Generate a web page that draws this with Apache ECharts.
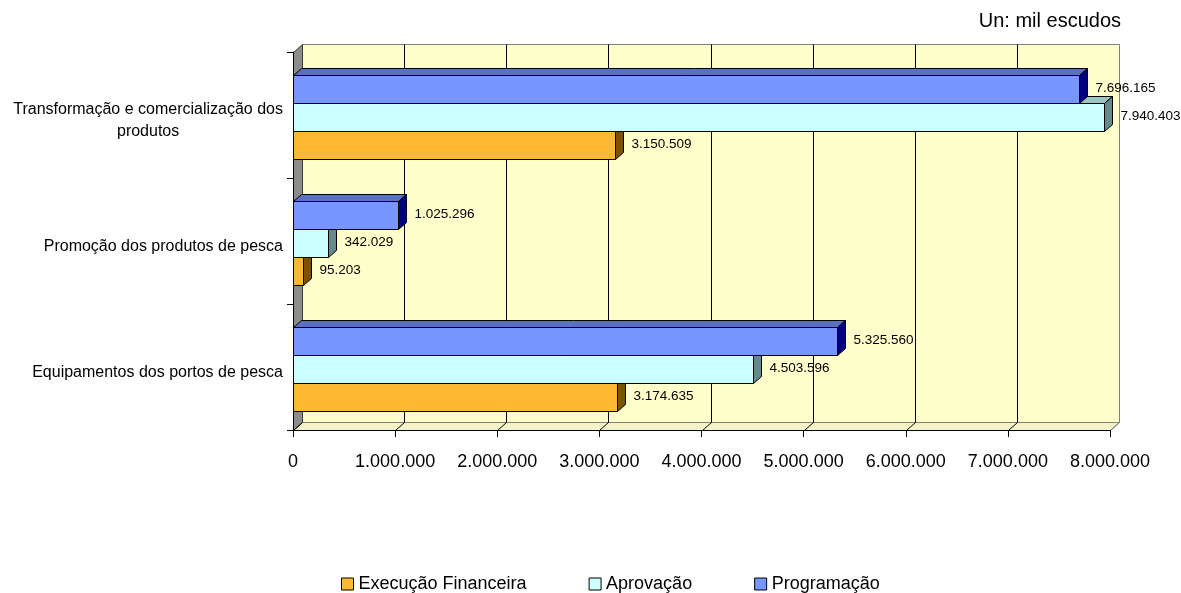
<!DOCTYPE html>
<html>
<head>
<meta charset="utf-8">
<script src="https://cdn.jsdelivr.net/npm/echarts@6/dist/echarts.min.js"></script>
<style>
  html, body { margin: 0; padding: 0; background: #ffffff; }
  #chart { width: 1181px; height: 593px; }
</style>
</head>
<body>
<div id="chart"></div>
<script>
// Categories (bottom to top on the vertical axis)
const categories = [
  'Equipamentos dos portos de pesca',
  'Promoção dos produtos de pesca',
  'Transformação e comercialização dos\nprodutos'
];

// Values in thousands of escudos
const execucao    = [3174635, 95203, 3150509];
const aprovacao   = [4503596, 342029, 7940403];
const programacao = [5325560, 1025296, 7696165];

const seriesNames = ['Execução Financeira', 'Aprovação', 'Programação'];
const xTicks = [0, 1000000, 2000000, 3000000, 4000000, 5000000, 6000000, 7000000, 8000000];
const unitLabel = 'Un: mil escudos';

const FONT = '"Liberation Sans", Arial, Helvetica, sans-serif';

// Face colours for each series: front, top, side
const palette = {
  exec: { front: '#FFB833', top: '#C08A26', side: '#7F5000' },
  aprov: { front: '#CCFFFF', top: '#9CC4C2', side: '#668A8A' },
  prog: { front: '#7896FF', top: '#5A70C0', side: '#000080' }
};

function fmt(v) {
  return String(Math.round(v)).replace(/\B(?=(\d{3})+(?!\d))/g, '.');
}

// Pseudo-3D wall: back panel, left side panel, floor, gridlines
function renderWalls(params, api) {
  const cs = params.coordSys;
  const L = Math.round(cs.x) + 0.5, T = Math.round(cs.y) + 0.5;
  const R = Math.round(cs.x + cs.width) + 0.5, B = Math.round(cs.y + cs.height) + 0.5;
  const dx = 9, dy = 8;
  const kids = [
    { type: 'rect', shape: { x: L + dx, y: T - dy, width: R - L, height: B - T },
      style: { fill: '#FFFFCC', stroke: '#808080', lineWidth: 1 } },
    { type: 'polygon', shape: { points: [[L + dx, B - dy], [R + dx, B - dy], [R, B], [L, B]] },
      style: { fill: '#F4F4C8', stroke: '#808080', lineWidth: 1 } },
    { type: 'polygon', shape: { points: [[L, T], [L + dx, T - dy], [L + dx, B - dy], [L, B]] },
      style: { fill: '#8C8C8C', stroke: '#3C3C3C', lineWidth: 1 } }
  ];
  xTicks.forEach(function (v, i) {
    const x = Math.round(api.coord([v, 0])[0]) + 0.5;
    if (i > 0 && i < xTicks.length - 1) {
      kids.push({ type: 'line', shape: { x1: x + dx, y1: T - dy, x2: x + dx, y2: B - dy },
        style: { stroke: '#000', lineWidth: 1 } });
    }
    kids.push({ type: 'line', shape: { x1: x + dx, y1: B - dy, x2: x, y2: B },
      style: { stroke: i === xTicks.length - 1 ? '#808080' : '#000', lineWidth: 1 } });
  });
  return { type: 'group', children: kids };
}

// Pseudo-3D horizontal bar; slot 0 is the upper bar of each group
function barRenderer(slot, col) {
  return function (params, api) {
    const cat = api.value(0);
    const val = api.value(1);
    const p0 = api.coord([0, cat]);
    const p1 = api.coord([val, cat]);
    const band = api.size([0, 1])[1];
    const h = Math.round(band * 0.222);
    const x0 = Math.round(p0[0]) + 0.5;
    const x1 = Math.round(p1[0]) + 0.5;
    const y = Math.round(p0[1] - 1.5 * h + 2 + slot * h) + 0.5;
    const dx = 8, dy = 7;
    return {
      type: 'group',
      children: [
        { type: 'polygon', shape: { points: [[x0, y], [x0 + dx, y - dy], [x1 + dx, y - dy], [x1, y]] },
          style: { fill: col.top, stroke: '#000', lineWidth: 1 } },
        { type: 'polygon', shape: { points: [[x1, y], [x1 + dx, y - dy], [x1 + dx, y + h - dy], [x1, y + h]] },
          style: { fill: col.side, stroke: '#000', lineWidth: 1 } },
        { type: 'rect', shape: { x: x0, y: y, width: x1 - x0, height: h },
          style: { fill: col.front, stroke: '#000', lineWidth: 1 } },
        { type: 'text',
          style: { x: x1 + dx + 8, y: y + h / 2 - 1, text: fmt(val), fill: '#000',
                   font: '13.5px ' + FONT, textAlign: 'left', textVerticalAlign: 'middle',
                   align: 'left', verticalAlign: 'middle' } }
      ]
    };
  };
}

// Width of the longest line of the wrapped category label, used to centre its lines
const measureCtx = document.createElement('canvas').getContext('2d');
measureCtx.font = '16px ' + FONT;
let wrapWidth = 0;
categories.forEach(function (c) {
  if (c.indexOf('\n') >= 0) {
    c.split('\n').forEach(function (l) { wrapWidth = Math.max(wrapWidth, measureCtx.measureText(l).width); });
  }
});

const chart = echarts.init(document.getElementById('chart'), null, { renderer: 'canvas' });

chart.setOption({
  animation: false,
  backgroundColor: '#ffffff',
  title: {
    text: unitLabel,
    right: 60,
    top: 11,
    padding: 0,
    textStyle: { fontSize: 20, fontWeight: 'normal', color: '#000', fontFamily: FONT }
  },
  legend: {
    data: seriesNames,
    left: 341,
    top: 575,
    padding: 0,
    itemWidth: 12,
    itemHeight: 12,
    itemGap: 62,
    icon: 'rect',
    itemStyle: { borderColor: '#000', borderWidth: 1 },
    textStyle: { fontSize: 18, color: '#000', fontFamily: FONT }
  },
  grid: { left: 293, right: 71, top: 52, bottom: 163, containLabel: false },
  xAxis: {
    type: 'value',
    min: 0,
    max: 8000000,
    interval: 1000000,
    z: 10,
    axisLine: { show: true, lineStyle: { color: '#000', width: 1 } },
    axisTick: { show: true, length: 7, lineStyle: { color: '#000' } },
    splitLine: { show: false },
    axisLabel: { fontSize: 18, color: '#000', fontFamily: FONT, margin: 23, formatter: fmt }
  },
  yAxis: {
    type: 'category',
    data: categories,
    z: 10,
    axisLine: { show: true, lineStyle: { color: '#000', width: 1 } },
    axisTick: { show: true, length: 6, lineStyle: { color: '#000' } },
    splitLine: { show: false },
    axisLabel: {
      fontSize: 16, color: '#000', fontFamily: FONT, margin: 10, lineHeight: 22,
      padding: [12, 0, 0, 0],
      formatter: function (v) {
        if (v.indexOf('\n') < 0) return v;
        return v.split('\n').map(function (l) { return '{m|' + l + '}'; }).join('\n');
      },
      rich: { m: { width: wrapWidth, align: 'center', fontSize: 16, lineHeight: 22, fontFamily: FONT, color: '#000' } }
    }
  },
  series: [
    {
      type: 'custom', name: 'walls', silent: true, z: 1,
      renderItem: renderWalls,
      encode: { x: 1, y: 0 },
      data: [[0, 0]]
    },
    {
      type: 'custom', name: seriesNames[0], z: 2,
      itemStyle: { color: palette.exec.front, borderColor: '#000', borderWidth: 1 },
      renderItem: barRenderer(2, palette.exec),
      encode: { x: 1, y: 0 },
      data: execucao.map(function (v, i) { return [i, v]; })
    },
    {
      type: 'custom', name: seriesNames[1], z: 3,
      itemStyle: { color: palette.aprov.front, borderColor: '#000', borderWidth: 1 },
      renderItem: barRenderer(1, palette.aprov),
      encode: { x: 1, y: 0 },
      data: aprovacao.map(function (v, i) { return [i, v]; })
    },
    {
      type: 'custom', name: seriesNames[2], z: 4,
      itemStyle: { color: palette.prog.front, borderColor: '#000', borderWidth: 1 },
      renderItem: barRenderer(0, palette.prog),
      encode: { x: 1, y: 0 },
      data: programacao.map(function (v, i) { return [i, v]; })
    }
  ]
});
</script>
</body>
</html>
